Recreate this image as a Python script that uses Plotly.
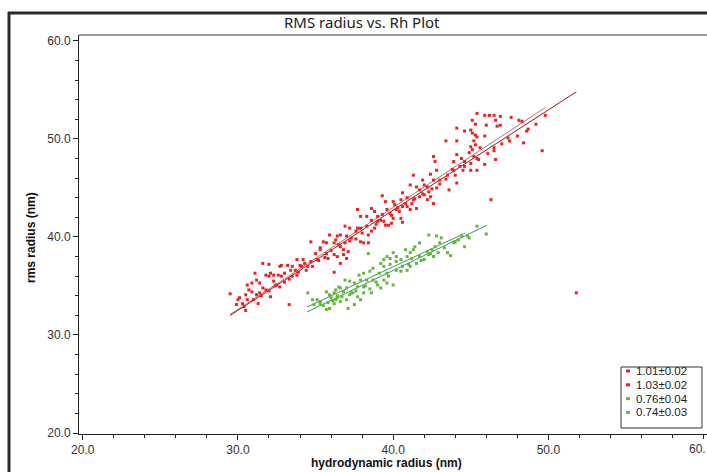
import plotly.graph_objects as go

# ---------------- data ----------------
LEGEND_LABELS = ["1.01±0.02", "1.03±0.02", "0.76±0.04", "0.74±0.03"]

RED1_X = [45.4, 46.2, 46.9, 45.1, 46.6, 45.3, 44.6, 45.1, 45.4, 47.4,
          49.8, 48.3, 43.4, 45.2, 45.0, 44.9, 49.6, 45.6, 42.6, 43.9,
          44.6, 45.4, 46.6, 45.0, 43.9, 42.8, 41.9, 42.6, 43.5, 41.5,
          42.2, 42.8, 44.1, 40.9, 41.7, 42.2, 42.4, 39.5, 40.5, 41.2,
          41.1, 40.2, 46.3, 38.8, 39.3, 39.8, 40.5, 37.7, 38.3, 39.0,
          39.5, 39.9, 38.3, 38.6, 36.9, 37.6, 35.9, 36.6, 37.3, 35.7,
          36.3, 36.8, 37.9, 38.4, 35.3, 35.3, 35.8, 36.4, 37.0, 34.2,
          34.5, 34.1, 35.1, 34.0, 33.5, 33.4, 33.5, 32.7, 32.6, 32.5,
          32.8, 32.0, 31.8, 32.3, 31.6, 32.1, 31.2, 30.6, 30.9, 31.4,
          30.6, 30.0, 29.9, 30.4, 33.3, 36.2, 51.8,
          31.0, 31.5, 32.0, 32.4, 33.0, 33.3, 33.9, 34.8, 35.2, 35.6,
          36.0, 36.5, 37.2, 37.6, 38.0, 38.9, 39.4, 39.9, 40.4, 40.8]
RED1_Y = [52.6, 52.4, 52.3, 51.9, 51.9, 51.5, 50.8, 50.6, 50.2, 50.1,
          52.4, 51.8, 49.8, 49.8, 49.2, 48.6, 48.8, 49.1, 48.2, 47.7,
          47.7, 48.0, 47.9, 46.8, 46.8, 46.8, 45.8, 45.8, 46.3, 45.1,
          45.1, 45.0, 45.5, 44.0, 44.1, 43.8, 44.1, 43.6, 43.8, 43.4,
          42.8, 42.8, 43.8, 42.6, 42.3, 42.4, 41.9, 42.8, 42.1, 41.6,
          41.2, 41.4, 41.1, 40.6, 41.1, 40.6, 40.2, 40.2, 39.9, 39.4,
          39.7, 38.7, 39.5, 39.4, 38.9, 38.7, 37.8, 38.0, 37.8, 37.7,
          37.0, 37.0, 37.7, 37.1, 37.0, 36.6, 36.0, 37.0, 36.1, 35.1,
          36.0, 37.2, 36.1, 36.1, 34.8, 33.9, 35.6, 35.1, 34.4, 34.3,
          33.6, 33.6, 33.1, 32.9, 33.1, 36.4, 34.3,
          33.6, 34.0, 34.5, 35.0, 35.4, 35.7, 36.4, 37.0, 37.6, 37.9,
          38.6, 39.2, 39.6, 39.8, 40.4, 41.3, 41.6, 42.2, 42.6, 43.4]

RED2_X = [45.9, 46.5, 47.6, 46.0, 46.9, 44.1, 45.0, 45.3, 45.9, 48.6,
          48.1, 46.7, 44.1, 45.3, 45.1, 48.4, 46.5, 44.1, 42.7, 44.4,
          45.2, 45.9, 44.6, 45.4, 44.3, 41.3, 42.4, 43.0, 41.1, 41.7,
          42.3, 43.6, 40.6, 41.3, 42.0, 42.6, 39.3, 40.0, 40.9, 41.5,
          40.6, 40.1, 38.6, 39.0, 39.6, 40.0, 40.6, 37.9, 38.6, 39.2,
          39.7, 38.8, 37.9, 38.4, 37.2, 37.7, 36.4, 37.0, 35.5, 36.2,
          36.6, 37.1, 38.1, 34.7, 35.0, 35.7, 36.2, 36.8, 36.6, 34.3,
          34.7, 34.4, 33.8, 33.7, 33.2, 33.8, 32.8, 33.0, 32.3, 32.7,
          31.6, 32.1, 32.0, 31.4, 31.8, 31.1, 30.9, 30.7, 31.2, 30.5,
          30.1, 29.5, 30.3, 31.3, 30.5,
          41.4, 41.9, 42.5, 43.0, 43.4, 44.0, 44.5, 45.0, 45.5, 46.1,
          46.5, 47.0, 47.5, 48.0, 48.7, 49.2, 43.8, 42.0, 40.3, 36.9]
RED2_Y = [52.4, 52.4, 52.2, 51.4, 51.4, 51.1, 50.9, 50.4, 50.3, 50.8,
          51.9, 51.3, 49.8, 49.4, 48.9, 49.6, 49.1, 48.4, 47.7, 48.0,
          48.2, 47.4, 47.2, 46.8, 47.2, 46.3, 46.4, 45.8, 45.3, 44.8,
          44.6, 44.8, 44.5, 43.8, 44.3, 43.4, 44.2, 43.6, 43.1, 42.9,
          43.1, 43.3, 42.9, 42.1, 42.8, 41.9, 41.5, 42.1, 41.7, 41.7,
          41.2, 40.9, 40.9, 40.2, 40.9, 40.9, 40.1, 40.1, 39.5, 39.4,
          39.0, 38.5, 39.4, 39.5, 38.3, 38.3, 38.2, 38.2, 37.3, 37.3,
          37.5, 36.6, 37.7, 36.6, 37.1, 36.1, 37.1, 36.3, 35.5, 34.9,
          37.3, 36.3, 36.0, 35.3, 34.6, 36.3, 35.3, 34.6, 34.1, 34.1,
          33.8, 34.2, 33.2, 33.2, 32.5,
          43.9, 44.4, 44.9, 45.4, 45.9, 46.3, 46.8, 47.5, 47.9, 48.5,
          48.8, 49.5, 49.8, 50.3, 51.0, 51.5, 46.9, 45.3, 43.0, 39.4]

GREEN1_X = [45.4, 44.9, 43.7, 43.9, 44.4, 42.7, 42.2, 42.8, 41.7, 41.3,
            40.9, 40.2, 39.6, 40.8, 39.2, 39.8, 40.6, 40.0, 38.7, 38.1,
            37.9, 38.7, 39.2, 37.7, 37.2, 37.0, 37.7, 37.0, 36.6, 36.3,
            35.9, 36.6, 35.9, 35.3, 34.9, 34.5, 36.0, 37.1, 39.4, 38.6,
            39.6, 42.0, 42.6, 41.1, 39.4, 41.2,
            35.5, 35.8, 36.1, 36.7, 37.2, 37.6, 38.2, 38.9, 39.7, 40.5]
GREEN1_Y = [41.1, 39.9, 38.1, 39.4, 40.1, 39.0, 38.5, 40.1, 39.4, 38.7,
            38.0, 37.5, 38.0, 38.7, 37.3, 37.2, 37.0, 35.1, 36.8, 36.3,
            35.6, 35.6, 34.8, 34.9, 35.5, 34.8, 33.9, 33.6, 34.8, 34.6,
            34.1, 33.4, 32.7, 33.4, 33.1, 34.3, 33.8, 32.7, 35.6, 34.3,
            36.3, 37.7, 38.0, 37.0, 37.7, 37.8,
            33.0, 33.3, 33.5, 33.9, 34.1, 34.5, 35.0, 35.4, 36.0, 36.5]

GREEN2_X = [46.0, 44.6, 43.5, 44.2, 43.0, 42.5, 42.3, 43.1, 41.4, 41.1,
            40.5, 39.8, 40.0, 38.4, 39.4, 40.2, 40.9, 39.1, 38.5, 37.8,
            38.3, 39.0, 38.1, 37.5, 36.9, 37.3, 37.9, 36.8, 36.5, 36.2,
            36.4, 36.2, 35.7, 35.1, 34.8, 35.7, 36.3, 37.5, 39.6, 38.1,
            41.5, 42.3, 42.9, 41.7, 40.2,
            41.0, 41.8, 42.4, 43.3, 44.0, 36.4, 37.4, 38.5, 35.3, 44.8]
GREEN2_Y = [40.3, 39.0, 38.4, 39.7, 39.4, 38.7, 40.2, 39.9, 39.0, 38.4,
            37.7, 37.8, 38.4, 38.3, 37.0, 36.6, 36.6, 36.3, 36.5, 36.1,
            35.6, 35.1, 34.9, 35.3, 35.6, 34.3, 33.6, 34.4, 34.9, 34.3,
            33.8, 33.2, 32.6, 33.6, 33.6, 34.4, 33.6, 33.1, 35.3, 34.3,
            37.3, 38.2, 38.4, 38.0, 38.0,
            37.2, 37.6, 38.3, 38.9, 39.5, 34.0, 34.3, 34.7, 33.2, 40.1]

# fitted lines (end points)
FIT_RED1_X = [29.5, 51.8]
FIT_RED1_Y = [32.0, 54.8]
FIT_RED2_X = [29.5, 49.8]
FIT_RED2_Y = [32.1, 53.2]
FIT_GREEN1_X = [34.45, 46.05]
FIT_GREEN1_Y = [32.35, 41.2]
FIT_GREEN2_X = [34.45, 44.65]
FIT_GREEN2_Y = [32.85, 40.4]

X_TICKS = [20, 30, 40, 50, 60]
X_TICK_TEXT = ["20.0", "30.0", "40.0", "50.0", "60."]   # last label is cut by the window edge
Y_TICKS = [20, 30, 40, 50, 60]
Y_TICK_TEXT = ["20.0", "30.0", "40.0", "50.0", "60.0"]

RED = "#EE2024"
GREEN = "#62B83A"
SERIES_COLORS = [RED, RED, GREEN, GREEN]

# ---------------- figure ----------------
fig = go.Figure()

for fx, fy, col in [(FIT_RED2_X, FIT_RED2_Y, "#C46A6A"),
                    (FIT_RED1_X, FIT_RED1_Y, "#8E1B1B"),
                    (FIT_GREEN1_X, FIT_GREEN1_Y, "#2A9A66"),
                    (FIT_GREEN2_X, FIT_GREEN2_Y, "#3E9E48")]:
    fig.add_trace(go.Scatter(x=fx, y=fy, mode="lines", showlegend=False,
                             line=dict(color=col, width=1), hoverinfo="skip"))

for xs, ys, col, name in [(RED1_X, RED1_Y, SERIES_COLORS[0], LEGEND_LABELS[0]),
                          (RED2_X, RED2_Y, SERIES_COLORS[1], LEGEND_LABELS[1]),
                          (GREEN1_X, GREEN1_Y, SERIES_COLORS[2], LEGEND_LABELS[2]),
                          (GREEN2_X, GREEN2_Y, SERIES_COLORS[3], LEGEND_LABELS[3])]:
    fig.add_trace(go.Scatter(x=xs, y=ys, mode="markers", name=name, showlegend=False,
                             marker=dict(symbol="square", size=3, color=col,
                                         line=dict(width=0))))

tickfont = dict(family="Liberation Sans, Arial, sans-serif", size=12, color="#333333")

fig.update_xaxes(range=[19.76, 60.22], tickvals=X_TICKS[:-1], ticktext=X_TICK_TEXT[:-1],
                 ticks="outside", ticklen=5, tickcolor="#222", tickwidth=1,
                 showline=True, linecolor="#222", linewidth=1,
                 showgrid=False, zeroline=False, tickfont=tickfont,
                 minor=dict(dtick=2, ticks="outside", ticklen=3, tickcolor="#222", showgrid=False))
fig.update_yaxes(range=[19.9, 60.6], tickvals=Y_TICKS, ticktext=Y_TICK_TEXT,
                 ticks="outside", ticklen=5, tickcolor="#222", tickwidth=1,
                 showline=True, linecolor="#222", linewidth=1,
                 showgrid=False, zeroline=False, tickfont=tickfont,
                 minor=dict(dtick=2, ticks="outside", ticklen=3, tickcolor="#222", showgrid=False))

L, T, B = 79, 35, 38
W, H = 707, 472
pw = W - L
ph = H - T - B

def px_to_paper_x(px):
    return (px - L) / pw

def px_to_paper_y(py):
    return (H - B - py) / ph

shapes = [
    # plot frame top border (gray)
    dict(type="line", xref="paper", yref="paper", x0=0, x1=1.0, y0=1, y1=1,
         line=dict(color="#9a9a9a", width=2)),
    # outer dark window frame
    dict(type="line", xref="paper", yref="paper",
         x0=px_to_paper_x(8), x1=1.0, y0=px_to_paper_y(13), y1=px_to_paper_y(13),
         line=dict(color="#2a2a2a", width=3)),
    dict(type="line", xref="paper", yref="paper",
         x0=px_to_paper_x(9), x1=px_to_paper_x(9), y0=px_to_paper_y(12), y1=px_to_paper_y(472),
         line=dict(color="#2a2a2a", width=3)),
    # the major tick at the last (cut) label
    dict(type="line", xref="x", yref="paper", x0=X_TICKS[-1], x1=X_TICKS[-1],
         y0=0, y1=-5 / ph, line=dict(color="#222", width=1)),
]

annotations = [
    dict(text="RMS radius vs. Rh Plot", xref="paper", yref="paper",
         x=px_to_paper_x(362), y=px_to_paper_y(22), showarrow=False,
         xanchor="center", yanchor="middle",
         font=dict(family="Noto Sans, sans-serif", size=15, color="#222")),
    dict(text="<b>hydrodynamic radius (nm)</b>", xref="paper", yref="paper",
         x=px_to_paper_x(386), y=px_to_paper_y(463), showarrow=False,
         xanchor="center", yanchor="middle",
         font=dict(family="Liberation Sans, Arial, sans-serif", size=12, color="#111")),
    dict(text="<b>rms radius (nm)</b>", xref="paper", yref="paper",
         x=px_to_paper_x(31), y=px_to_paper_y(238), showarrow=False, textangle=-90,
         xanchor="center", yanchor="middle",
         font=dict(family="Liberation Sans, Arial, sans-serif", size=12, color="#111")),
    # last x tick label, at the right window edge as in the original
    dict(text=X_TICK_TEXT[-1], xref="x", yref="paper", x=X_TICKS[-1], y=0,
         xanchor="left", yanchor="top", xshift=-17, yshift=-6, showarrow=False,
         font=tickfont),
]

# custom compact legend (box, colour swatches, labels)
LEG_LEFT, LEG_RIGHT, LEG_TOP, LEG_BOTTOM = 621, 702, 367, 428
ROW0, ROW_STEP = 371, 13.8
shapes.append(dict(type="rect", xref="paper", yref="paper",
                   x0=px_to_paper_x(LEG_LEFT), x1=px_to_paper_x(LEG_RIGHT),
                   y0=px_to_paper_y(LEG_BOTTOM), y1=px_to_paper_y(LEG_TOP),
                   line=dict(color="#333", width=1), fillcolor="white", layer="above"))
for i, (lab, col) in enumerate(zip(LEGEND_LABELS, SERIES_COLORS)):
    yc = ROW0 + i * ROW_STEP
    shapes.append(dict(type="rect", xref="paper", yref="paper",
                       x0=px_to_paper_x(626), x1=px_to_paper_x(630),
                       y0=px_to_paper_y(yc + 1.5), y1=px_to_paper_y(yc - 1.5),
                       line=dict(width=0), fillcolor=col, layer="above"))
    annotations.append(dict(text=lab, xref="paper", yref="paper",
                            x=px_to_paper_x(634), y=px_to_paper_y(yc), showarrow=False,
                            xanchor="left", yanchor="middle",
                            font=dict(family="Liberation Sans, Arial, sans-serif",
                                      size=11.5, color="#222")))

fig.update_layout(
    width=W, height=H,
    margin=dict(l=L, r=0, t=T, b=B, pad=0),
    paper_bgcolor="white", plot_bgcolor="white",
    shapes=shapes, annotations=annotations,
    showlegend=False,
)

POST = """
document.body.style.margin='0';
document.body.style.overflow='hidden';
"""

fig.write_html("out.html", config={"displayModeBar": False}, post_script=POST)
